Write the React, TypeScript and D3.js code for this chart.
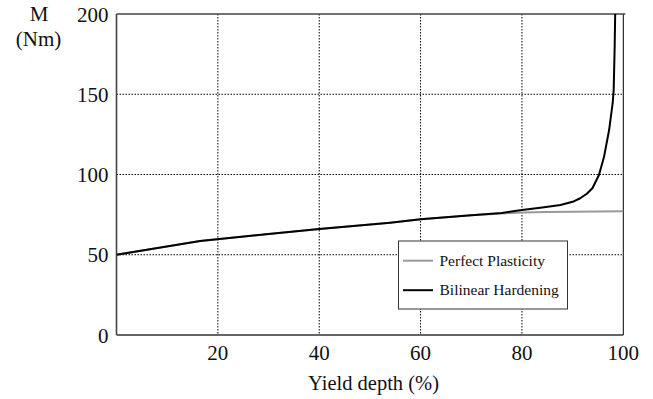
import React from "react";
import * as d3 from "d3";

// Moment vs. yield depth
const yieldDepthPlastic = [0, 16.5, 30, 40, 54, 60, 70, 76, 80, 85, 90, 95, 100];
const momentPlastic = [50, 58.6, 63, 66, 70, 72.1, 74.6, 75.7, 76.3, 76.6, 76.8, 77, 77.1];

const yieldDepthHardening = [0, 16.5, 30, 40, 54, 60, 70, 76, 80, 84, 87.6, 90, 91.5, 92.8, 93.9, 95.2, 96.2, 97.2, 97.9, 98.1, 98.3, 98.4];
const momentHardening = [50, 58.6, 63, 66, 70, 72.1, 74.6, 76, 77.9, 79.4, 81, 83, 85.2, 88, 91.4, 99.7, 111, 127.7, 144.4, 152.6, 180, 200];

const xTicks = [20, 40, 60, 80, 100];
const yTicks = [0, 50, 100, 150, 200];
const seriesNames = ["Perfect Plasticity", "Bilinear Hardening"];
const seriesColors = ["#999999", "#000000"];

const W = 653;
const H = 399;
const left = 116.5;
const right = 623.3;
const top = 14;
const bottom = 335;

export default function App() {
  const x = d3.scaleLinear().domain([0, 100]).range([left, right]);
  const y = d3.scaleLinear().domain([0, 200]).range([bottom, top]);

  const line = d3
    .line<[number, number]>()
    .x((d) => x(d[0]))
    .y((d) => y(d[1]));

  const plastic = yieldDepthPlastic.map((v, i) => [v, momentPlastic[i]] as [number, number]);
  const hardening = yieldDepthHardening.map((v, i) => [v, momentHardening[i]] as [number, number]);

  const font = "'Liberation Serif', 'Times New Roman', serif";

  return (
    <svg
      width={W}
      height={H}
      style={{ position: "absolute", left: 0, top: 0, background: "#fff" }}
      fontFamily={font}
    >
      {/* grid */}
      {xTicks
        .filter((t) => t < 100)
        .map((t) => (
          <line key={"gx" + t} x1={x(t)} x2={x(t)} y1={top} y2={bottom} stroke="#000" strokeWidth={1} strokeDasharray="1.5,1.5" />
        ))}
      {yTicks
        .filter((t) => t > 0 && t < 200)
        .map((t) => (
          <line key={"gy" + t} x1={left} x2={right} y1={y(t)} y2={y(t)} stroke="#000" strokeWidth={1} strokeDasharray="1.5,1.5" />
        ))}

      {/* frame */}
      <line x1={right} x2={right} y1={top} y2={bottom} stroke="#000" strokeWidth={1} />
      <line x1={left} x2={right + 2} y1={top} y2={top} stroke="#444" strokeWidth={1.6} />
      <line x1={left} x2={right} y1={bottom} y2={bottom} stroke="#333" strokeWidth={1.5} />
      <line x1={left} x2={left} y1={top} y2={bottom} stroke="#444" strokeWidth={1.6} />

      {/* curves */}
      <path d={line(plastic) || ""} fill="none" stroke={seriesColors[0]} strokeWidth={2} />
      <path d={line(hardening) || ""} fill="none" stroke={seriesColors[1]} strokeWidth={2} strokeLinejoin="round" />

      {/* tick labels */}
      {yTicks.map((t) => (
        <text key={"ty" + t} x={108.5} y={y(t) + 7.5} textAnchor="end" fontSize={21} fill="#111">
          {t}
        </text>
      ))}
      {xTicks.map((t) => (
        <text key={"tx" + t} x={x(t)} y={360} textAnchor="middle" fontSize={21} fill="#111">
          {t}
        </text>
      ))}

      {/* axis titles */}
      <text x={39} y={21} textAnchor="middle" fontSize={21} fill="#111">M</text>
      <text x={38.5} y={45.5} textAnchor="middle" fontSize={21} fill="#111">(Nm)</text>
      <text x={373.5} y={390} textAnchor="middle" fontSize={20.5} fill="#111">Yield depth (%)</text>

      {/* legend */}
      <rect x={398.5} y={241} width={169} height={68} fill="#fff" stroke="#333" strokeWidth={1} />
      {seriesNames.map((name, i) => (
        <g key={name}>
          <line x1={403} x2={433} y1={260.7 + i * 29.5} y2={260.7 + i * 29.5} stroke={seriesColors[i]} strokeWidth={2} />
          <text x={439.5} y={265.5 + i * 29.5} fontSize={15.5} fill="#111">
            {name}
          </text>
        </g>
      ))}
    </svg>
  );
}
